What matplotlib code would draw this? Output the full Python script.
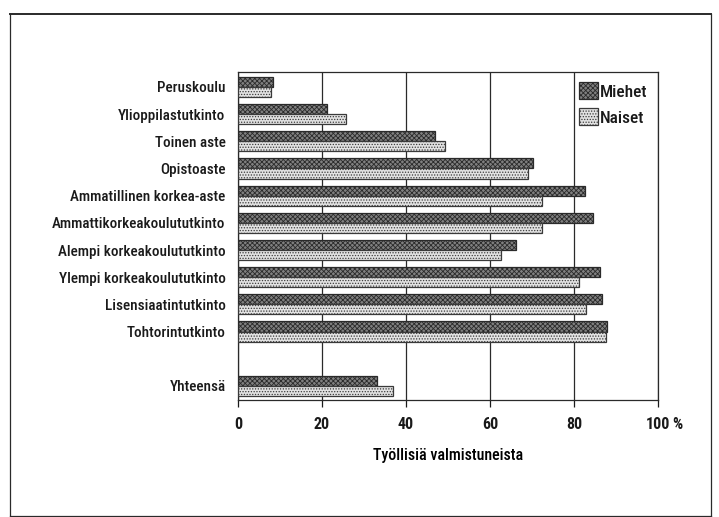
import numpy as np
import matplotlib
matplotlib.use("Agg")
import matplotlib.pyplot as plt
from matplotlib.lines import Line2D

# data
categories = ["Peruskoulu", "Ylioppilastutkinto", "Toinen aste", "Opistoaste",
              "Ammatillinen korkea-aste", "Ammattikorkeakoulututkinto",
              "Alempi korkeakoulututkinto", "Ylempi korkeakoulututkinto",
              "Lisensiaatintutkinto", "Tohtorintutkinto", "Yhteensä"]
miehet = [8.3, 21.1, 46.9, 70.2, 82.5, 84.6, 66.1, 86.3, 86.6, 87.9, 33.2]
naiset = [7.8, 25.8, 49.4, 69.0, 72.4, 72.4, 62.6, 81.3, 82.8, 87.5, 36.8]
xticks = [0, 20, 40, 60, 80, 100]
xticklabels = ["0", "20", "40", "60", "80", "100"]

plt.rcParams["font.family"] = ["Roboto Condensed", "DejaVu Sans"]
plt.rcParams["font.weight"] = 400
plt.rcParams["font.size"] = 11
plt.rcParams["hatch.linewidth"] = 0.6
plt.rcParams["text.color"] = "#1a1a1a"

fig = plt.figure(figsize=(7.19, 5.17), dpi=100)
ax = fig.add_axes([0.331, 0.2263, 0.5842, 0.6344])

# Yhteensä sits one empty row below the rest
ypos = np.arange(len(categories), dtype=float)
ypos[-1] += 1
h = 0.37

ax.barh(ypos - h / 2, miehet, height=h, color="#808080", edgecolor="#2a2a2a",
        hatch="xxxxxxx", linewidth=0.9, label="Miehet", zorder=3)
ax.barh(ypos + h / 2, naiset, height=h, color="#e2e2e2", edgecolor="#3a3a3a",
        hatch="......", linewidth=0.9, label="Naiset", zorder=3)

ax.set_xlim(0, 100)
ax.set_ylim(ypos[-1] + 0.52, -0.55)
ax.set_xticks(xticks)
ax.set_xticklabels(xticklabels, fontweight="bold", fontsize=11.5)
ax.set_yticks(ypos)
ax.set_yticklabels(categories, fontweight=500, fontsize=10.9)
ax.tick_params(axis="y", length=0, pad=9, colors="#1a1a1a")
ax.tick_params(axis="x", length=5, width=0.9, direction="out", pad=7, colors="#1a1a1a")
# the percent sign hangs to the right of the last tick label
ax.annotate("%", xy=(100, 0), xycoords=("data", "axes fraction"), xytext=(10.5, -12),
            textcoords="offset points", ha="left", va="top", fontweight="bold", fontsize=11.5)
ax.grid(axis="x", color="#2a2a2a", linewidth=0.9, zorder=0)
for s in ax.spines.values():
    s.set_linewidth(0.9)
    s.set_color("#2a2a2a")
ax.set_xlabel("Työllisiä valmistuneista", labelpad=12, fontsize=11.5, fontweight=500)

leg = ax.legend(loc="upper right", frameon=False, handlelength=1.05, handleheight=1.1,
                handletextpad=0.15, labelspacing=0.5, borderaxespad=0.2,
                prop={"size": 12.5, "weight": 500})

# outer frame of the figure box
fw = 0.9
fc = "#2a2a2a"
fig.add_artist(Line2D([10 / 719, 10 / 719], [0, 1 - 14 / 517], color=fc, lw=fw))
fig.add_artist(Line2D([711 / 719, 711 / 719], [0, 1 - 14 / 517], color=fc, lw=fw))
fig.add_artist(Line2D([10 / 719, 711 / 719], [1 - 14 / 517, 1 - 14 / 517], color=fc, lw=1.4))
fig.add_artist(Line2D([10 / 719, 711 / 719], [0.002, 0.002], color=fc, lw=fw))

fig.savefig("out.png", dpi=100)
